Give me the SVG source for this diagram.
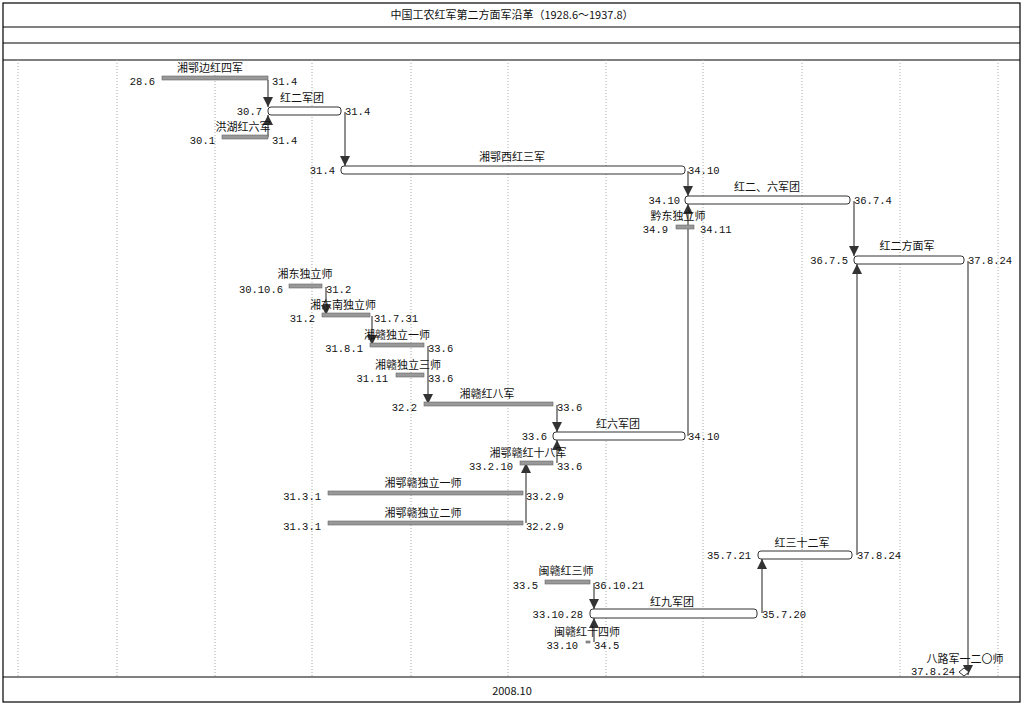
<svg xmlns="http://www.w3.org/2000/svg" width="1024" height="703" viewBox="0 0 1024 703">
<style>
text{font-family:"Noto Sans CJK SC","Liberation Sans",sans-serif;font-size:11px;fill:#111}
.n{font-family:"Liberation Mono","Noto Sans CJK SC",monospace;font-size:10.5px}
.r{text-anchor:end}.c{text-anchor:middle}
.g{fill:#999;stroke:#666;stroke-width:0.6}
.w{fill:#fff;stroke:#333;stroke-width:1}
.grid{stroke:#aaa;stroke-width:1;stroke-dasharray:1 2}
.k{stroke:#444;stroke-width:1.2;fill:none}
</style>
<defs>
<marker id="a" viewBox="0 0 10 10" refX="10" refY="5" markerWidth="10" markerHeight="10" markerUnits="userSpaceOnUse" orient="auto"><path d="M0,0 L10,5 L0,10 z" fill="#333"/></marker>
</defs>
<rect x="0" y="0" width="1024" height="703" fill="#fff"/>
<g id="frame">
<rect x="3" y="3" width="1017" height="699" fill="none" stroke="#000" stroke-width="1.2"/>
<line x1="3" y1="27" x2="1020" y2="27" stroke="#000"/>
<line x1="3" y1="43" x2="1020" y2="43" stroke="#000"/>
<line x1="3" y1="60" x2="1020" y2="60" stroke="#000"/>
<line x1="3" y1="677" x2="1020" y2="677" stroke="#000"/>
<text x="512" y="19" class="c">中国工农红军第二方面军沿革（1928.6～1937.8）</text>
<text x="512" y="695" class="c">2008.10</text>
</g>
<g id="grid">
<line class="grid" x1="18" y1="60" x2="18" y2="677"/><line class="grid" x1="117" y1="60" x2="117" y2="677"/>
<line class="grid" x1="215" y1="60" x2="215" y2="677"/><line class="grid" x1="312" y1="60" x2="312" y2="677"/>
<line class="grid" x1="411" y1="60" x2="411" y2="677"/><line class="grid" x1="508" y1="60" x2="508" y2="677"/>
<line class="grid" x1="606" y1="60" x2="606" y2="677"/><line class="grid" x1="703" y1="60" x2="703" y2="677"/>
<line class="grid" x1="802" y1="60" x2="802" y2="677"/><line class="grid" x1="900" y1="60" x2="900" y2="677"/>
<line class="grid" x1="998" y1="60" x2="998" y2="677"/>
</g>
<g id="connectors">
<path class="k" d="M268,80 V107" marker-end="url(#a)"/>
<path class="k" d="M268,137 V115" marker-end="url(#a)"/>
<path class="k" d="M345,112 V166" marker-end="url(#a)"/>
<path class="k" d="M688,171 V196" marker-end="url(#a)"/>
<path class="k" d="M688,436 V204" marker-end="url(#a)"/>
<path class="k" d="M854,201 V256" marker-end="url(#a)"/>
<path class="k" d="M857,555 V264" marker-end="url(#a)"/>
<path class="k" d="M968,261 V675" marker-end="url(#a)"/>
<path class="k" d="M326,287 V315" marker-end="url(#a)"/>
<path class="k" d="M372,316 V345" marker-end="url(#a)"/>
<path class="k" d="M428,346 V404" marker-end="url(#a)"/>
<path class="k" d="M557,405 V432" marker-end="url(#a)"/>
<path class="k" d="M557,463 V440" marker-end="url(#a)"/>
<path class="k" d="M526,523 V463" marker-end="url(#a)"/>
<path class="k" d="M594,583 V609" marker-end="url(#a)"/>
<path class="k" d="M594,642 V618" marker-end="url(#a)"/>
<path class="k" d="M762,613 V559" marker-end="url(#a)"/>
</g>
<g id="n1"><rect class="g" x="162" y="76" width="106" height="4"/><text x="210" y="72" class="c">湘鄂边红四军</text><text x="155" y="85" class="n r">28.6</text><text x="272" y="85" class="n">31.4</text></g>
<g id="n2"><rect class="w" x="268" y="107" width="73" height="8" rx="3"/><text x="280" y="102">红二军团</text><text x="262" y="115" class="n r">30.7</text><text x="345" y="115" class="n">31.4</text></g>
<g id="n3"><rect class="g" x="222" y="135" width="46" height="4"/><text x="243" y="131" class="c">洪湖红六军</text><text x="215" y="144" class="n r">30.1</text><text x="272" y="144" class="n">31.4</text></g>
<g id="n4"><rect class="w" x="341" y="166" width="344" height="8" rx="3"/><text x="512" y="161" class="c">湘鄂西红三军</text><text x="335" y="174" class="n r">31.4</text><text x="688" y="174" class="n">34.10</text></g>
<g id="n5"><rect class="w" x="685" y="196" width="165" height="8" rx="3"/><text x="767" y="191" class="c">红二、六军团</text><text x="680" y="204" class="n r">34.10</text><text x="854" y="204" class="n">36.7.4</text></g>
<g id="n6"><rect class="g" x="676" y="225" width="18" height="4"/><text x="678" y="220" class="c">黔东独立师</text><text x="668" y="233" class="n r">34.9</text><text x="700" y="233" class="n">34.11</text></g>
<g id="n7"><rect class="w" x="854" y="256" width="110" height="8" rx="3"/><text x="907" y="250" class="c">红二方面军</text><text x="848" y="264" class="n r">36.7.5</text><text x="968" y="264" class="n">37.8.24</text></g>
<g id="n8"><rect class="g" x="289" y="284" width="33" height="4"/><text x="305" y="278" class="c">湘东独立师</text><text x="283" y="293" class="n r">30.10.6</text><text x="326" y="293" class="n">31.2</text></g>
<g id="n9"><rect class="g" x="322" y="313" width="48" height="4"/><text x="343" y="309" class="c">湘东南独立师</text><text x="315" y="322" class="n r">31.2</text><text x="374" y="322" class="n">31.7.31</text></g>
<g id="n10"><rect class="g" x="370" y="343" width="54" height="4"/><text x="397" y="339" class="c">湘赣独立一师</text><text x="363" y="352" class="n r">31.8.1</text><text x="428" y="352" class="n">33.6</text></g>
<g id="n11"><rect class="g" x="396" y="373" width="28" height="4"/><text x="408" y="369" class="c">湘赣独立三师</text><text x="388" y="382" class="n r">31.11</text><text x="428" y="382" class="n">33.6</text></g>
<g id="n12"><rect class="g" x="424" y="402" width="129" height="4"/><text x="487" y="398" class="c">湘赣红八军</text><text x="417" y="411" class="n r">32.2</text><text x="557" y="411" class="n">33.6</text></g>
<g id="n13"><rect class="w" x="553" y="432" width="132" height="8" rx="3"/><text x="618" y="428" class="c">红六军团</text><text x="547" y="440" class="n r">33.6</text><text x="688" y="440" class="n">34.10</text></g>
<g id="n14"><rect class="g" x="520" y="461" width="33" height="4"/><text x="528" y="457" class="c">湘鄂赣红十八军</text><text x="513" y="470" class="n r">33.2.10</text><text x="557" y="470" class="n">33.6</text></g>
<g id="n15"><rect class="g" x="328" y="491" width="195" height="4"/><text x="423" y="487" class="c">湘鄂赣独立一师</text><text x="321" y="500" class="n r">31.3.1</text><text x="526" y="500" class="n">33.2.9</text></g>
<g id="n16"><rect class="g" x="328" y="521" width="195" height="4"/><text x="423" y="517" class="c">湘鄂赣独立二师</text><text x="321" y="530" class="n r">31.3.1</text><text x="526" y="530" class="n">32.2.9</text></g>
<g id="n17"><rect class="w" x="758" y="551" width="94" height="8" rx="3"/><text x="802" y="547" class="c">红三十二军</text><text x="751" y="559" class="n r">35.7.21</text><text x="857" y="559" class="n">37.8.24</text></g>
<g id="n18"><rect class="g" x="545" y="580" width="45" height="4"/><text x="566" y="575" class="c">闽赣红三师</text><text x="538" y="589" class="n r">33.5</text><text x="594" y="589" class="n">36.10.21</text></g>
<g id="n19"><rect class="w" x="590" y="609" width="167" height="9" rx="3"/><text x="672" y="606" class="c">红九军团</text><text x="583" y="618" class="n r">33.10.28</text><text x="762" y="618" class="n">35.7.20</text></g>
<g id="n20"><rect class="g" x="586" y="641" width="4" height="2"/><text x="587" y="636" class="c">闽赣红十四师</text><text x="578" y="649" class="n r">33.10</text><text x="594" y="649" class="n">34.5</text></g>
<g id="n21"><path d="M959,672 L964,668 L969,672 L964,676 z" fill="#fff" stroke="#333"/><text x="965" y="663" class="c">八路军一二〇师</text><text x="955" y="675" class="n r">37.8.24</text></g>
</svg>
